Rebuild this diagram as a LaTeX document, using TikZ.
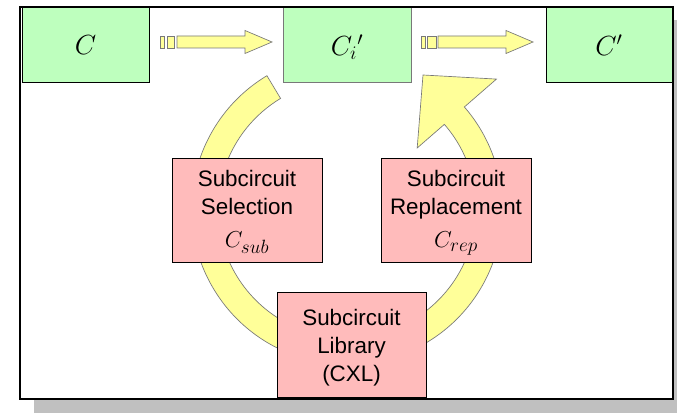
\documentclass[tikz,border=0pt]{standalone}
\usepackage{fontspec}
\setmainfont{Liberation Sans}
\definecolor{boxgreen}{RGB}{190,255,190}
\definecolor{boxpink}{RGB}{255,187,187}
\definecolor{ringyellow}{RGB}{255,255,153}
\definecolor{shadowgray}{RGB}{192,192,192}
\definecolor{edgegray}{RGB}{120,120,120}
\newcommand\bigsubscript[1]{\mbox{\fontsize{15}{15}\selectfont$\mathnormal{#1}$}}
\tikzset{
  greenbox/.style={draw=black,line width=0.75pt,fill=boxgreen,inner sep=0pt},
  pinkbox/.style={draw=black,line width=0.75pt,fill=boxpink,inner sep=0pt},
  yellowshape/.style={draw=edgegray,line width=0.5pt,fill=ringyellow,line join=miter},
  boxtext/.style={font=\fontsize{16.8}{20}\selectfont,inner sep=0pt,anchor=base},
  bigmath/.style={font=\fontsize{22}{24}\selectfont,inner sep=0pt},
  midmath/.style={font=\fontsize{18.5}{21}\selectfont,inner sep=0pt,anchor=base},
}
\begin{document}
\begin{tikzpicture}[x=0.75pt,y=0.75pt]
\useasboundingbox (0,0) rectangle (677,413);
% shadow and frame background
\fill[shadowgray] (34,0) rectangle (677,393);
\fill[white] (20,14) rectangle (673,406);
% ring arrow
\begin{scope}[shift={(347,204)}]
\path[yellowshape] (121:155.5) arc[start angle=121,end angle=401,radius=155.5]
  -- (41:198) -- (76,134) -- (41:93) -- (41:129)
  arc[start angle=401,end angle=121,radius=129] -- cycle;
\end{scope}
% green boxes
\node[greenbox,minimum width=127*0.75pt,minimum height=75*0.75pt] (c0) at (85.5,367.5) {};
\node[greenbox,draw=edgegray,minimum width=128*0.75pt,minimum height=75*0.75pt] (ci) at (347,367.5) {};
\node[greenbox,minimum width=126*0.75pt,minimum height=75*0.75pt] (cp) at (609,367.5) {};
\node[bigmath] (c0t) at (c0.center) {$C$};
\node[bigmath] (cit) at ([yshift=-1pt]ci.center) {$C_i{}'$};
\node[bigmath] (cpt) at (cp.center) {$C'$};
% block arrows
\path[yellowshape] (160,365) rectangle (164,377);
\path[yellowshape] (167,365) rectangle (174,377);
\path[yellowshape] (177,365) -- (245,365) -- (245,359.5) -- (272,371)
  -- (245,382.5) -- (245,377) -- (177,377) -- cycle;
\path[yellowshape] (421,365) rectangle (425,377);
\path[yellowshape] (427,365) rectangle (436,377);
\path[yellowshape] (438,365) -- (506,365) -- (506,359.5) -- (533,371)
  -- (506,382.5) -- (506,377) -- (438,377) -- cycle;
% pink boxes
\node[pinkbox,minimum width=150*0.75pt,minimum height=104*0.75pt] (sel) at (247,202) {};
\node[pinkbox,minimum width=150*0.75pt,minimum height=104*0.75pt] (rep) at (456,202) {};
\node[pinkbox,minimum width=149*0.75pt,minimum height=105*0.75pt] (lib) at (351.5,67.5) {};
\node[boxtext] (sel1) at (247,226) {Subcircuit};
\node[boxtext] (sel2) at (247,198) {Selection};
\node[midmath] (sel3) at (247,165) {$C_{\bigsubscript{sub}}$};
\node[boxtext] (rep1) at (456,226) {Subcircuit};
\node[boxtext] (rep2) at (456,198) {Replacement};
\node[midmath] (rep3) at (456,165) {$C_{\bigsubscript{rep}}$};
\node[boxtext] (lib1) at (351.5,87) {Subcircuit};
\node[boxtext] (lib2) at (351.5,59) {Library};
\node[boxtext] (lib3) at (351.5,31) {(CXL)};
% frame border
\draw[line width=1.6pt] (20,14) rectangle (673,406);
\end{tikzpicture}
\end{document}
